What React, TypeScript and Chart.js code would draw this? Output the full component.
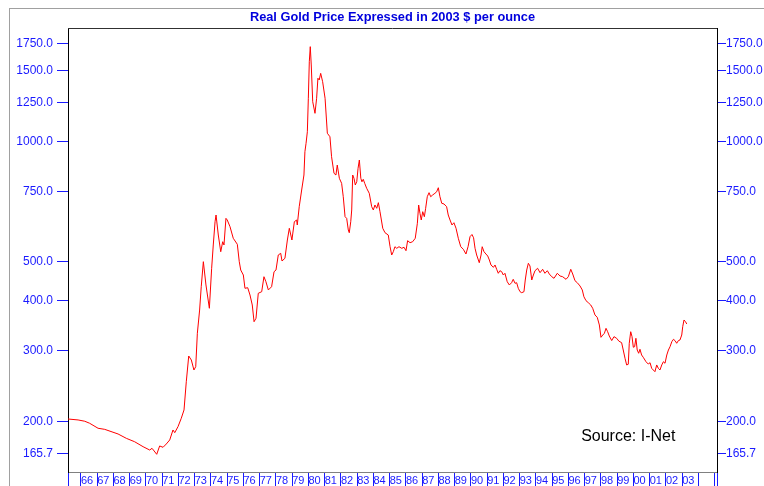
import { useEffect, useRef } from 'react';
import { Chart, registerables } from 'chart.js';

Chart.register(...registerables);

// ---- data (decimal year, real price in 2003 $/oz) ----
const dates: number[] = [
  1965.2, 1965.82, 1966.23, 1966.53, 1967.05, 1967.46, 1968.28, 1968.79, 1969.3, 1969.82,
  1970.23, 1970.37, 1970.5, 1970.66, 1970.84, 1971.05, 1971.25, 1971.46, 1971.66, 1971.77,
  1971.97, 1972.17, 1972.34, 1972.48, 1972.63, 1972.79, 1972.95, 1973.06, 1973.16, 1973.3,
  1973.4, 1973.53, 1973.69, 1973.9, 1974.04, 1974.14, 1974.25, 1974.31, 1974.45, 1974.6,
  1974.72, 1974.8, 1974.92, 1975.0, 1975.17, 1975.37, 1975.62, 1975.74, 1975.83, 1975.99,
  1976.09, 1976.26, 1976.4, 1976.54, 1976.65, 1976.77, 1976.91, 1977.12, 1977.26, 1977.38,
  1977.53, 1977.73, 1977.88, 1978.0, 1978.14, 1978.29, 1978.37, 1978.55, 1978.7, 1978.82,
  1978.98, 1979.13, 1979.27, 1979.31, 1979.43, 1979.58, 1979.72, 1979.78, 1979.85, 1979.93,
  1979.99, 1980.05, 1980.11, 1980.17, 1980.26, 1980.4, 1980.5, 1980.58, 1980.66, 1980.75,
  1980.87, 1981.02, 1981.16, 1981.32, 1981.42, 1981.57, 1981.69, 1981.77, 1981.9, 1982.04,
  1982.14, 1982.25, 1982.35, 1982.45, 1982.51, 1982.6, 1982.66, 1982.72, 1982.8, 1982.88,
  1982.97, 1983.05, 1983.13, 1983.22, 1983.29, 1983.37, 1983.46, 1983.58, 1983.74, 1983.89,
  1983.99, 1984.09, 1984.2, 1984.3, 1984.4, 1984.57, 1984.71, 1984.91, 1985.02, 1985.12,
  1985.22, 1985.32, 1985.43, 1985.57, 1985.74, 1985.88, 1986.0, 1986.1, 1986.25, 1986.41,
  1986.57, 1986.7, 1986.78, 1986.86, 1986.94, 1987.03, 1987.13, 1987.21, 1987.31, 1987.42,
  1987.52, 1987.64, 1987.78, 1987.89, 1987.99, 1988.09, 1988.2, 1988.34, 1988.5, 1988.6,
  1988.71, 1988.83, 1988.95, 1989.08, 1989.22, 1989.37, 1989.53, 1989.69, 1989.82, 1989.94,
  1990.06, 1990.16, 1990.25, 1990.35, 1990.51, 1990.62, 1990.69, 1990.8, 1990.92, 1991.03,
  1991.13, 1991.23, 1991.38, 1991.48, 1991.58, 1991.68, 1991.78, 1991.89, 1991.99, 1992.09,
  1992.23, 1992.36, 1992.5, 1992.6, 1992.71, 1992.81, 1992.91, 1993.02, 1993.12, 1993.26,
  1993.34, 1993.43, 1993.53, 1993.63, 1993.74, 1993.84, 1993.94, 1994.1, 1994.25, 1994.41,
  1994.55, 1994.7, 1994.82, 1994.97, 1995.11, 1995.31, 1995.48, 1995.64, 1995.85, 1995.99,
  1996.14, 1996.26, 1996.4, 1996.54, 1996.71, 1996.85, 1996.95, 1997.08, 1997.22, 1997.37,
  1997.49, 1997.63, 1997.77, 1997.9, 1998.0, 1998.11, 1998.21, 1998.31, 1998.41, 1998.51,
  1998.66, 1998.8, 1998.97, 1999.1, 1999.27, 1999.37, 1999.48, 1999.58, 1999.68, 1999.74,
  1999.83, 1999.91, 1999.99, 2000.07, 2000.15, 2000.23, 2000.32, 2000.4, 2000.5, 2000.6,
  2000.77, 2000.91, 2001.02, 2001.12, 2001.22, 2001.32, 2001.43, 2001.53, 2001.63, 2001.74,
  2001.84, 2001.94, 2002.05, 2002.15, 2002.25, 2002.36, 2002.46, 2002.56, 2002.66, 2002.76,
  2002.86, 2002.97, 2003.03, 2003.11, 2003.2, 2003.28,
];

const prices: number[] = [
  202.6, 201.5, 200, 197.7, 192.1, 190.9, 185.9, 181.3, 177.8, 172.8,
  169.5, 171.2, 168.6, 165.4, 173.5, 172.2, 175.5, 179.6, 190.2, 187.3,
  193.9, 203.4, 213.4, 251, 291, 284.4, 268.5, 273.7, 331.6, 379,
  433.4, 500.4, 437.7, 382.8, 481.7, 550.8, 629.7, 654.4, 583.3, 529.9,
  561.3, 550.8, 642, 635.9, 611.9, 572.4, 553, 500.4, 477, 463.5,
  429.4, 430.9, 413.2, 390.1, 354.4, 361.4, 417.3, 421.1, 459, 446,
  425.3, 433.4, 472.4, 477, 520, 525.1, 502.4, 510.2, 566.8, 606.3,
  566.8, 629.7, 635.9, 617.9, 686.4, 755.5, 823.5, 941.6, 988.1, 1056,
  1280, 1579, 1722, 1550, 1255, 1174, 1280, 1436, 1422, 1477,
  1408, 1280, 1047, 1026, 914.8, 831.6, 823.5, 872, 808, 785,
  727, 648, 642, 600.4, 591, 629.7, 673.5, 823.5, 808, 777.6,
  792.4, 855.8, 897.7, 808, 792, 803.4, 785, 763, 741.4, 686.4,
  673.5, 693.1, 680, 702.4, 667, 606.3, 591, 583.3, 545.4, 520,
  530, 545.4, 540.4, 545.4, 540.4, 543.6, 533, 564.6, 558.1, 561.3,
  572.4, 624, 693.1, 660.8, 635.9, 667, 648, 680, 727, 744,
  727, 734, 741.4, 748, 765.5, 727, 700, 697.2, 686.4, 654.4,
  635.9, 617.9, 626, 606.3, 572.4, 545.4, 537.3, 523, 545.4, 577.7,
  585, 574, 540.4, 520, 497.5, 520, 545.4, 530, 523, 517,
  505.3, 491, 484.5, 491, 479, 468.1, 475.1, 472.4, 463.5, 468.1,
  446, 437.7, 443.5, 452.2, 441.9, 443.5, 429.4, 421.1, 418.7, 421.1,
  450.4, 477, 495.8, 488.2, 450.4, 463.5, 475.1, 481.8, 469.8, 479,
  468.1, 475.1, 466.2, 459, 454.8, 468.1, 460.9, 459, 452.2, 459,
  479, 466.2, 448.6, 443.5, 435.2, 425.3, 409, 399.9, 395.3, 390.1,
  382.8, 368.4, 363.5, 347.8, 324, 328.3, 331.6, 341.2, 334.6, 326.5,
  318, 325.2, 322, 317, 314.2, 301.2, 287.2, 276.4, 277.5, 313.1,
  334.6, 325.2, 306, 307, 322.2, 301.2, 295.6, 302.5, 292.7, 288.9,
  281.6, 277.9, 280, 271.1, 268.5, 265.9, 276.4, 271.1, 268.5, 276.4,
  281.6, 279.1, 292.7, 301.2, 307, 316, 320.3, 317.8, 313.1, 317.8,
  319, 328.3, 344.4, 357.9, 354.4, 349.8,
];

const yTickValues: number[] = [165.7, 200, 300, 400, 500, 750, 1000, 1250, 1500, 1750];
const yearLabels: string[] = [
  '66', '67', '68', '69', '70', '71', '72', '73', '74', '75', '76', '77', '78',
  '79', '80', '81', '82', '83', '84', '85', '86', '87', '88', '89', '90', '91',
  '92', '93', '94', '95', '96', '97', '98', '99', '00', '01', '02', '03',
];
const firstYear = 1966;
const lastTickYear = 2005;

const titleText = 'Real Gold Price Expressed in 2003 $ per ounce';
const sourceText = 'Source: I-Net';
const sourceAt = { x: 1996.78, y: 183 };

const xMin = 1965.2;
const xMax = 2005.14;
const yMin = 149.4;
const yMax = 1917;

const FONT = 'Arial, "Liberation Sans", sans-serif';
const BLUE = '#1a1aff';

const framePlugin = {
  id: 'framePlugin',
  beforeDraw(chart: any) {
    const ctx = chart.ctx;
    ctx.save();
    ctx.fillStyle = '#ffffff';
    ctx.fillRect(0, 0, chart.width, chart.height);
    ctx.strokeStyle = '#a0a0a0';
    ctx.lineWidth = 1;
    ctx.strokeRect(9.5, 8.5, chart.width + 40, chart.height + 40);
    ctx.restore();
  },
  afterDraw(chart: any) {
    const { ctx, chartArea: ca, scales } = chart;
    ctx.save();
    ctx.strokeStyle = '#303030';
    ctx.lineWidth = 1;
    ctx.beginPath();
    ctx.moveTo(ca.left, Math.round(ca.top) + 0.5);
    ctx.lineTo(ca.right, Math.round(ca.top) + 0.5);
    ctx.stroke();
    ctx.fillStyle = '#000000';
    ctx.font = '16px ' + FONT;
    ctx.textAlign = 'left';
    ctx.textBaseline = 'middle';
    ctx.fillText(
      sourceText,
      scales.x.getPixelForValue(sourceAt.x),
      scales.y.getPixelForValue(sourceAt.y)
    );
    ctx.restore();
  },
};

function yAxis(position: 'left' | 'right', width: number, tickLength: number, padding: number) {
  return {
    type: 'logarithmic' as const,
    position,
    min: yMin,
    max: yMax,
    afterBuildTicks: (s: any) => {
      s.ticks = yTickValues.map((v) => ({ value: v }));
    },
    afterFit: (s: any) => {
      s.width = width;
    },
    ticks: {
      autoSkip: false,
      color: BLUE,
      padding,
      font: { family: FONT, size: 12 },
      callback: (v: any) => Number(v).toFixed(1),
    },
    grid: {
      drawOnChartArea: false,
      drawTicks: true,
      tickLength,
      tickColor: BLUE,
      tickWidth: 1,
    },
    border: { color: '#000000', width: 1 },
  };
}

export default function App() {
  const canvasRef = useRef<HTMLCanvasElement | null>(null);

  useEffect(() => {
    const canvas = canvasRef.current;
    if (!canvas) return;
    const xTicks: number[] = [xMin];
    for (let y = firstYear; y <= lastTickYear; y++) xTicks.push(y);
    xTicks.push(xMax);

    const chart = new Chart(canvas, {
      type: 'line',
      data: {
        datasets: [
          {
            label: 'Real gold price',
            data: dates.map((d, i) => ({ x: d, y: prices[i] })),
            borderColor: '#ff0000',
            borderWidth: 1,
            pointRadius: 0,
            tension: 0,
            fill: false,
            xAxisID: 'x',
            yAxisID: 'y',
          },
        ],
      },
      options: {
        responsive: false,
        animation: false,
        devicePixelRatio: 1,
        layout: { padding: 0 },
        plugins: {
          legend: { display: false },
          tooltip: { enabled: false },
          title: {
            display: true,
            text: titleText,
            color: '#0000dd',
            fullSize: false,
            font: { family: FONT, size: 12.8, weight: 'bold' },
            padding: { top: 10, bottom: 2.64 },
          },
        },
        scales: {
          x: {
            type: 'linear',
            position: 'bottom',
            min: xMin,
            max: xMax,
            afterBuildTicks: (s: any) => {
              s.ticks = xTicks.map((v) => ({ value: v }));
            },
            afterFit: (s: any) => {
              s.height = 14;
            },
            ticks: {
              autoSkip: false,
              maxRotation: 0,
              minRotation: 0,
              align: 'start',
              padding: -12,
              color: BLUE,
              font: { family: FONT, size: 11 },
              callback: (v: any) => {
                const n = Number(v);
                const i = Math.round(n) - firstYear;
                return Math.abs(n - Math.round(n)) < 1e-6 && i >= 0 && i < yearLabels.length
                  ? yearLabels[i]
                  : '';
              },
            },
            grid: {
              drawOnChartArea: false,
              drawTicks: true,
              tickLength: 14,
              tickColor: BLUE,
              tickWidth: 1,
            },
            border: { color: '#808080', width: 1 },
          },
          y: yAxis('left', 68, 11, 4),
          y2: yAxis('right', 47, 9, 0),
        },
      },
      plugins: [framePlugin],
    });
    return () => chart.destroy();
  }, []);

  return (
    <div
      style={{
        position: 'fixed',
        left: 0,
        top: 0,
        width: 764,
        height: 486,
        background: '#ffffff',
        overflow: 'hidden',
      }}
    >
      <canvas ref={canvasRef} width={764} height={486} style={{ display: 'block' }} />
    </div>
  );
}
